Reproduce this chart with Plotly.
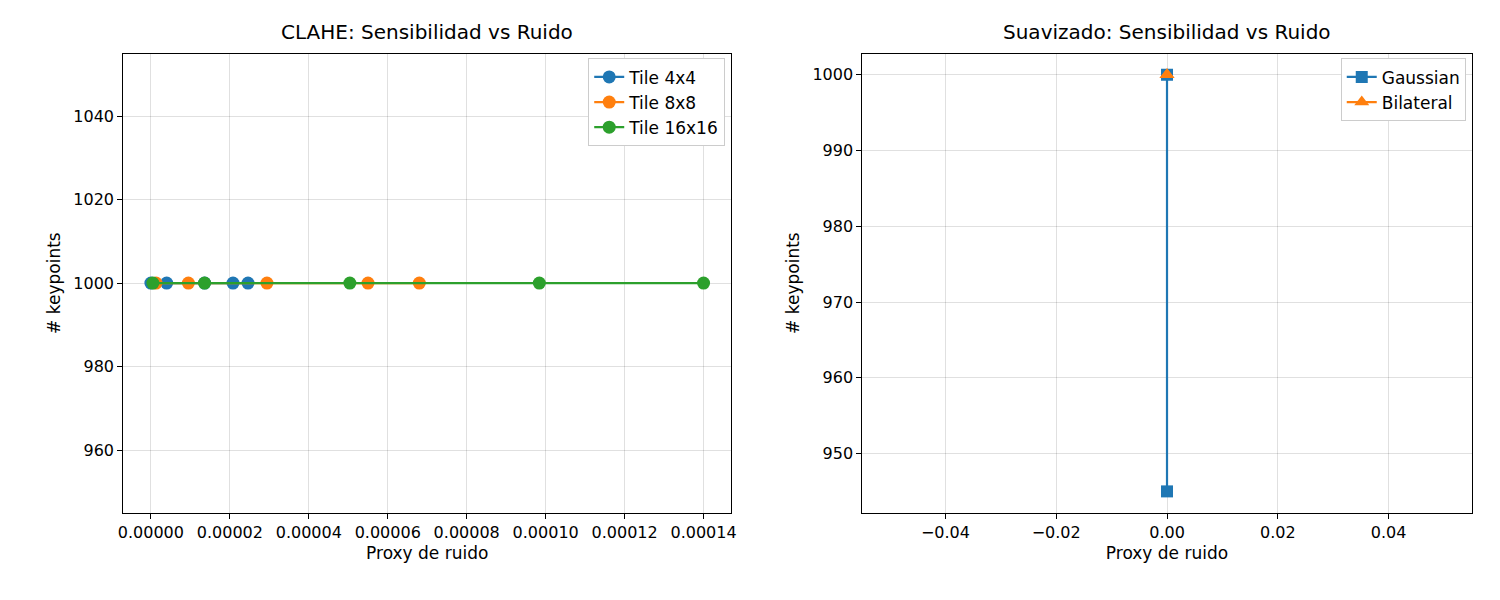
import plotly.graph_objects as go

# CLAHE: proxy de ruido vs keypoints
tile4_x = [0.0, 0.0000040, 0.0000136, 0.0000208, 0.0000246]
tile4_y = [1000, 1000, 1000, 1000, 1000]
tile8_x = [0.0000013, 0.0000095, 0.0000294, 0.0000550, 0.0000680]
tile8_y = [1000, 1000, 1000, 1000, 1000]
tile16_x = [0.0000005, 0.0000136, 0.0000504, 0.0000984, 0.0001400]
tile16_y = [1000, 1000, 1000, 1000, 1000]

# Suavizado
gauss_x = [0.0, 0.0]
gauss_y = [1000, 945]
bilat_x = [0.0, 0.0]
bilat_y = [1000, 1000]

blue, orange, green = "#1f77b4", "#ff7f0e", "#2ca02c"
fig = go.Figure()

for name, xs, ys, c in [("Tile 4x4", tile4_x, tile4_y, blue),
                        ("Tile 8x8", tile8_x, tile8_y, orange),
                        ("Tile 16x16", tile16_x, tile16_y, green)]:
    fig.add_trace(go.Scatter(x=xs, y=ys, name=name, mode="lines+markers",
                             line=dict(color=c, width=2.2), marker=dict(color=c, size=13),
                             xaxis="x", yaxis="y", legend="legend"))

fig.add_trace(go.Scatter(x=gauss_x, y=gauss_y, name="Gaussian", mode="lines+markers",
                         line=dict(color=blue, width=2.2), marker=dict(color=blue, size=12, symbol="square"),
                         xaxis="x2", yaxis="y2", legend="legend2"))
fig.add_trace(go.Scatter(x=bilat_x, y=bilat_y, name="Bilateral", mode="lines+markers",
                         line=dict(color=orange, width=2.2), marker=dict(color=orange, size=13, symbol="triangle-up"),
                         xaxis="x2", yaxis="y2", legend="legend2"))

ax = dict(showline=True, linecolor="black", linewidth=1, mirror=True, ticks="outside",
          ticklen=5, tickcolor="black", showgrid=True, gridcolor="rgba(0,0,0,0.12)",
          zeroline=False, tickfont=dict(size=16, color="black"))
yd = [0.159, 0.924]
leg = dict(bgcolor="white", bordercolor="#cccccc", borderwidth=1, font=dict(size=17, color="black"),
           xanchor="right", yanchor="top")

fig.update_layout(
    width=1500, height=600, plot_bgcolor="white", paper_bgcolor="white",
    margin=dict(l=0, r=0, t=0, b=0), font=dict(family="DejaVu Sans", color="black"),
    xaxis=dict(ax, domain=[0.074, 0.482], range=[-0.000007, 0.000147], dtick=0.00002, tickformat=".5f",
               title=dict(text="Proxy de ruido", font=dict(size=17), standoff=6), anchor="y"),
    yaxis=dict(ax, domain=yd, range=[945, 1055], dtick=20,
               title=dict(text="# keypoints", font=dict(size=17), standoff=8), anchor="x"),
    xaxis2=dict(ax, domain=[0.570, 0.979], range=[-0.055, 0.055], dtick=0.02, tickformat=".2f",
                title=dict(text="Proxy de ruido", font=dict(size=17), standoff=6), anchor="y2"),
    yaxis2=dict(ax, domain=yd, range=[942.2, 1002.8], dtick=10,
                title=dict(text="# keypoints", font=dict(size=17), standoff=8), anchor="x2"),
    legend=dict(leg, x=0.478, y=0.916),
    legend2=dict(leg, x=0.975, y=0.916),
    showlegend=True,
    annotations=[
        dict(text="CLAHE: Sensibilidad vs Ruido", x=0.278, y=0.936, xref="paper", yref="paper",
             showarrow=False, font=dict(size=20), xanchor="center", yanchor="bottom"),
        dict(text="Suavizado: Sensibilidad vs Ruido", x=0.7745, y=0.936, xref="paper", yref="paper",
             showarrow=False, font=dict(size=20), xanchor="center", yanchor="bottom"),
    ],
)
fig.write_html("out.html")
